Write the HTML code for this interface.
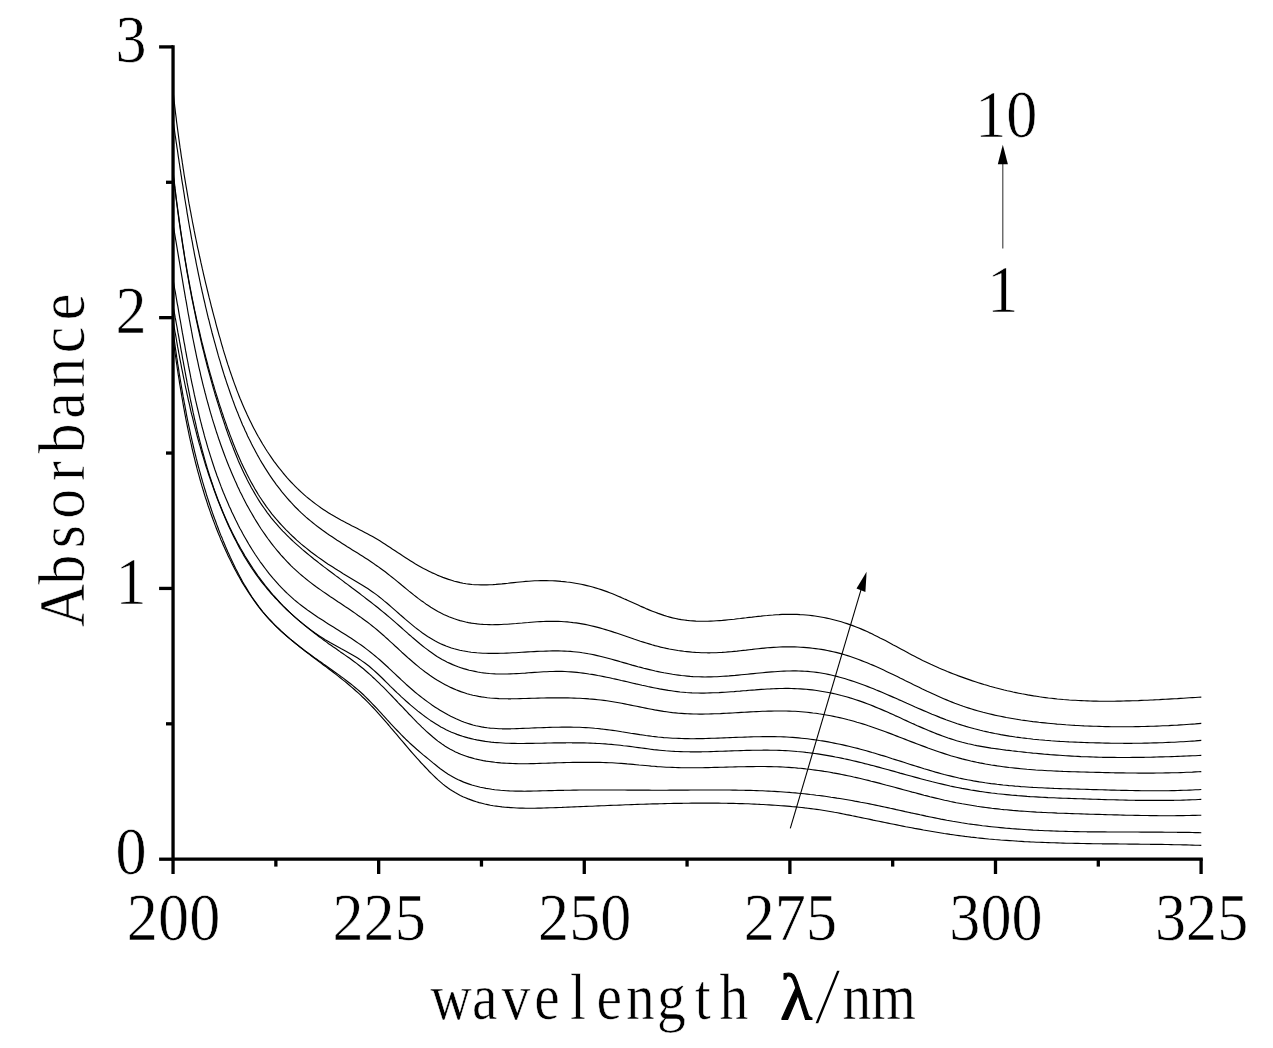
<!DOCTYPE html>
<html lang="en">
<head>
<meta charset="utf-8">
<title>Absorbance vs wavelength</title>
<style>
html,body{margin:0;padding:0;background:#fff;}
svg{display:block;}
text{font-family:"Liberation Serif","Noto Serif CJK SC",serif;fill:#000;stroke:#fff;stroke-width:0.6px;}
.num{font-size:67.6px;}
.lab{font-size:64px;}
</style>
</head>
<body>
<svg width="1273" height="1048" viewBox="0 0 1273 1048">
<rect width="1273" height="1048" fill="#fff"/>
<g fill="none" stroke="#000" stroke-width="1.15" stroke-linejoin="round">
<path d="M173.1 91.0L173.4 94.0 173.7 97.0 174.0 100.0 174.4 103.1 174.7 106.1 175.1 109.1 175.4 112.1 175.8 115.1 176.2 118.1 176.5 121.1 176.9 124.0 177.3 127.0 177.7 130.0 178.1 133.0 178.5 136.0 178.9 139.0 179.3 141.9 179.7 144.9 180.1 147.9 180.6 150.8 181.0 153.8 181.4 156.8 181.9 159.7 182.3 162.7 182.8 165.6 183.2 168.6 183.7 171.5 184.1 174.5 184.6 177.4 185.1 180.4 185.6 183.3 186.1 186.3 186.6 189.2 187.1 192.2 187.6 195.1 188.1 198.0 188.6 201.0 189.1 203.9 189.7 206.8 190.2 209.8 190.8 212.7 191.3 215.6 191.9 218.5 192.4 221.5 193.0 224.4 193.6 227.3 194.1 230.2 194.7 233.2 195.3 236.1 195.9 239.0 196.5 241.9 197.1 244.9 197.7 247.8 198.4 250.7 199.0 253.6 199.6 256.5 200.3 259.4 200.9 262.4 201.6 265.3 202.2 268.2 202.9 271.1 203.5 274.0 204.2 276.9 204.9 279.9 205.6 282.8 206.3 285.7 207.0 288.6 207.7 291.5 208.4 294.4 209.1 297.4 209.9 300.3 210.6 303.2 211.3 306.1 212.1 309.0 212.8 311.9 213.6 314.9 214.4 317.8 215.2 320.7 215.9 323.6 216.7 326.6 217.5 329.5 218.3 332.4 219.1 335.3 220.0 338.2 220.8 341.2 221.6 344.1 222.5 347.0 223.3 349.9 224.2 352.8 225.1 355.7 226.0 358.6 226.9 361.5 227.8 364.4 228.8 367.3 229.7 370.1 230.7 373.0 231.7 375.9 232.7 378.7 233.7 381.6 234.7 384.4 235.8 387.3 236.8 390.1 237.9 392.9 239.0 395.7 240.1 398.5 241.3 401.3 242.4 404.0 243.6 406.8 244.8 409.5 246.1 412.3 247.3 415.0 248.6 417.7 249.9 420.4 251.2 423.1 252.5 425.7 253.9 428.4 255.3 431.0 256.7 433.7 258.1 436.3 259.6 438.8 261.1 441.4 262.6 444.0 264.2 446.5 265.7 449.0 267.3 451.5 269.0 454.0 270.6 456.4 272.3 458.9 274.0 461.3 275.8 463.7 277.6 466.1 279.4 468.4 281.3 470.7 283.1 473.0 285.1 475.3 287.0 477.6 289.0 479.8 291.0 482.0 293.1 484.2 295.2 486.3 297.3 488.4 299.5 490.5 301.8 492.6 304.0 494.6 306.3 496.6 308.6 498.5 311.0 500.4 313.4 502.3 315.8 504.1 318.3 505.9 320.8 507.7 323.3 509.4 325.8 511.1 328.3 512.7 330.9 514.3 333.5 515.8 336.1 517.3 338.7 518.7 341.3 520.2 343.9 521.6 346.5 522.9 349.1 524.3 351.7 525.7 354.4 527.0 357.0 528.3 359.6 529.7 362.2 531.0 364.8 532.4 367.4 533.8 370.0 535.2 372.6 536.6 375.1 538.1 377.7 539.6 380.2 541.1 382.7 542.7 385.2 544.3 387.7 545.9 390.2 547.5 392.6 549.2 395.1 550.8 397.6 552.5 400.1 554.1 402.6 555.8 405.2 557.4 407.7 559.1 410.3 560.7 412.9 562.3 415.5 563.9 418.1 565.4 420.8 566.9 423.5 568.4 426.2 569.8 428.9 571.2 431.7 572.6 434.5 573.8 437.2 575.1 440.1 576.3 442.9 577.4 445.7 578.4 448.6 579.4 451.5 580.3 454.4 581.2 457.3 581.9 460.2 582.6 463.1 583.2 466.1 583.7 469.0 584.1 472.0 584.5 474.9 584.7 477.9 584.8 480.9 584.9 483.9 584.9 486.9 584.9 489.9 584.7 492.9 584.6 495.9 584.4 498.9 584.1 501.9 583.9 504.9 583.6 507.9 583.3 510.9 582.9 513.9 582.6 516.9 582.3 519.9 582.0 522.8 581.7 525.8 581.4 528.8 581.2 531.8 581.0 534.7 580.8 537.7 580.7 540.6 580.6 543.5 580.6 546.5 580.6 549.4 580.7 552.3 580.8 555.2 580.9 558.1 581.1 561.0 581.4 563.9 581.6 566.8 582.0 569.7 582.3 572.6 582.7 575.4 583.2 578.3 583.7 581.2 584.3 584.0 584.9 586.9 585.6 589.8 586.3 592.6 587.0 595.5 587.9 598.3 588.7 601.2 589.6 604.0 590.6 606.9 591.6 609.7 592.7 612.5 593.8 615.4 595.0 618.2 596.2 621.1 597.4 623.9 598.7 626.8 599.9 629.6 601.2 632.5 602.5 635.3 603.8 638.2 605.1 641.0 606.4 643.9 607.6 646.7 608.9 649.6 610.1 652.4 611.2 655.3 612.3 658.2 613.4 661.1 614.4 663.9 615.4 666.8 616.3 669.7 617.1 672.6 617.9 675.5 618.5 678.4 619.1 681.3 619.6 684.2 620.0 687.1 620.4 690.0 620.7 693.0 620.9 695.9 621.1 698.8 621.2 701.8 621.2 704.7 621.2 707.7 621.2 710.6 621.1 713.6 621.0 716.5 620.8 719.5 620.6 722.4 620.4 725.4 620.1 728.4 619.8 731.3 619.5 734.3 619.2 737.3 618.8 740.3 618.5 743.2 618.1 746.2 617.8 749.2 617.4 752.2 617.1 755.2 616.7 758.1 616.4 761.1 616.1 764.1 615.7 767.1 615.5 770.1 615.2 773.1 615.0 776.1 614.7 779.1 614.6 782.1 614.4 785.1 614.3 788.1 614.3 791.1 614.3 794.0 614.3 797.0 614.4 800.0 614.6 803.0 614.7 806.0 615.0 809.0 615.3 812.0 615.6 814.9 616.0 817.9 616.5 820.8 617.0 823.8 617.5 826.7 618.1 829.7 618.8 832.6 619.5 835.5 620.2 838.4 621.0 841.3 621.8 844.1 622.7 847.0 623.6 849.8 624.6 852.7 625.6 855.5 626.7 858.2 627.8 861.0 628.9 863.8 630.1 866.5 631.3 869.2 632.6 871.9 633.8 874.6 635.2 877.3 636.5 880.0 637.9 882.7 639.2 885.4 640.6 888.0 642.0 890.7 643.4 893.3 644.9 896.0 646.3 898.6 647.7 901.3 649.2 903.9 650.6 906.6 652.0 909.2 653.5 911.9 654.9 914.6 656.3 917.3 657.7 919.9 659.0 922.6 660.4 925.4 661.7 928.1 663.0 930.8 664.3 933.5 665.5 936.3 666.7 939.0 668.0 941.8 669.2 944.5 670.3 947.3 671.5 950.1 672.6 952.9 673.7 955.7 674.8 958.5 675.9 961.3 676.9 964.1 677.9 966.9 678.9 969.8 679.9 972.6 680.9 975.4 681.8 978.3 682.7 981.2 683.6 984.0 684.5 986.9 685.3 989.8 686.2 992.7 687.0 995.5 687.8 998.4 688.5 1001.3 689.2 1004.2 690.0 1007.2 690.7 1010.1 691.3 1013.0 692.0 1015.9 692.6 1018.8 693.2 1021.8 693.8 1024.7 694.3 1027.7 694.9 1030.6 695.4 1033.6 695.9 1036.5 696.3 1039.5 696.8 1042.4 697.2 1045.4 697.6 1048.4 698.0 1051.4 698.3 1054.3 698.6 1057.3 699.0 1060.3 699.2 1063.3 699.5 1066.3 699.7 1069.3 700.0 1072.3 700.2 1075.3 700.3 1078.2 700.5 1081.2 700.6 1084.2 700.8 1087.3 700.9 1090.3 701.0 1093.3 701.1 1096.3 701.1 1099.3 701.2 1102.3 701.2 1105.3 701.2 1108.3 701.2 1111.3 701.2 1114.3 701.2 1117.3 701.1 1120.4 701.1 1123.4 701.0 1126.4 700.9 1129.4 700.9 1132.4 700.8 1135.4 700.7 1138.4 700.6 1141.4 700.4 1144.4 700.3 1147.5 700.2 1150.5 700.0 1153.5 699.9 1156.5 699.7 1159.5 699.6 1162.5 699.4 1165.5 699.3 1168.5 699.1 1171.5 698.9 1174.5 698.7 1177.5 698.6 1180.5 698.4 1183.4 698.2 1186.4 698.0 1189.4 697.8 1192.4 697.6 1195.4 697.5 1198.3 697.3 1201.3 697.1"/>
<path d="M173.0 120.5L173.5 123.5 173.9 126.5 174.4 129.5 174.8 132.6 175.2 135.6 175.7 138.6 176.1 141.6 176.6 144.6 177.0 147.6 177.5 150.5 177.9 153.5 178.3 156.5 178.8 159.5 179.2 162.5 179.7 165.5 180.1 168.4 180.6 171.4 181.0 174.4 181.5 177.4 181.9 180.3 182.4 183.3 182.9 186.2 183.3 189.2 183.8 192.2 184.3 195.1 184.7 198.1 185.2 201.0 185.7 204.0 186.2 206.9 186.7 209.8 187.1 212.8 187.6 215.7 188.1 218.7 188.6 221.6 189.1 224.5 189.6 227.5 190.2 230.4 190.7 233.3 191.2 236.3 191.7 239.2 192.3 242.1 192.8 245.1 193.3 248.0 193.9 250.9 194.4 253.8 195.0 256.8 195.6 259.7 196.1 262.6 196.7 265.5 197.3 268.4 197.9 271.3 198.5 274.3 199.1 277.2 199.7 280.1 200.3 283.0 200.9 285.9 201.6 288.8 202.2 291.8 202.9 294.7 203.5 297.6 204.2 300.5 204.9 303.4 205.5 306.3 206.2 309.2 206.9 312.1 207.6 315.1 208.3 318.0 209.1 320.9 209.8 323.8 210.5 326.7 211.3 329.6 212.0 332.5 212.8 335.5 213.6 338.4 214.4 341.3 215.2 344.2 216.0 347.1 216.8 350.0 217.6 352.9 218.4 355.9 219.3 358.8 220.2 361.7 221.0 364.6 221.9 367.5 222.8 370.5 223.7 373.4 224.6 376.3 225.6 379.2 226.5 382.1 227.5 385.0 228.5 387.9 229.5 390.8 230.5 393.7 231.5 396.5 232.5 399.4 233.6 402.3 234.6 405.1 235.7 408.0 236.8 410.8 238.0 413.6 239.1 416.5 240.3 419.3 241.4 422.1 242.6 424.9 243.9 427.6 245.1 430.4 246.4 433.1 247.6 435.9 248.9 438.6 250.3 441.3 251.6 444.0 253.0 446.7 254.4 449.3 255.8 452.0 257.2 454.6 258.7 457.2 260.1 459.8 261.6 462.4 263.2 464.9 264.7 467.4 266.3 469.9 267.9 472.4 269.5 474.9 271.2 477.4 272.9 479.8 274.6 482.2 276.3 484.6 278.1 486.9 279.9 489.2 281.7 491.6 283.6 493.8 285.5 496.1 287.4 498.3 289.3 500.5 291.3 502.7 293.3 504.8 295.3 507.0 297.4 509.0 299.5 511.1 301.6 513.1 303.8 515.1 306.0 517.1 308.2 519.0 310.5 520.9 312.8 522.8 315.1 524.6 317.5 526.5 319.9 528.2 322.3 530.0 324.7 531.7 327.1 533.5 329.6 535.2 332.1 536.8 334.6 538.5 337.1 540.2 339.7 541.8 342.2 543.4 344.7 545.0 347.3 546.7 349.9 548.3 352.4 549.9 355.0 551.5 357.6 553.1 360.1 554.7 362.7 556.3 365.2 557.9 367.8 559.6 370.3 561.2 372.8 562.9 375.3 564.7 377.8 566.4 380.3 568.2 382.7 570.0 385.2 571.8 387.6 573.7 390.0 575.6 392.4 577.5 394.8 579.4 397.2 581.4 399.5 583.3 401.9 585.3 404.3 587.2 406.6 589.1 409.0 591.1 411.4 593.0 413.7 594.9 416.1 596.7 418.5 598.6 420.9 600.4 423.4 602.1 425.8 603.9 428.3 605.5 430.8 607.2 433.3 608.7 435.8 610.2 438.4 611.7 441.0 613.1 443.6 614.4 446.2 615.6 448.9 616.8 451.6 617.8 454.4 618.8 457.2 619.7 460.0 620.6 462.8 621.3 465.7 622.0 468.5 622.6 471.4 623.1 474.3 623.5 477.3 623.9 480.2 624.2 483.2 624.4 486.1 624.5 489.1 624.6 492.1 624.7 495.1 624.6 498.1 624.6 501.1 624.5 504.1 624.3 507.1 624.2 510.1 624.0 513.1 623.7 516.1 623.5 519.1 623.2 522.2 623.0 525.2 622.7 528.2 622.5 531.2 622.2 534.2 622.0 537.2 621.8 540.2 621.6 543.2 621.5 546.2 621.4 549.2 621.3 552.2 621.3 555.2 621.3 558.2 621.4 561.2 621.5 564.2 621.7 567.2 621.9 570.1 622.2 573.1 622.6 576.1 622.9 579.1 623.4 582.0 623.9 585.0 624.4 587.9 625.0 590.9 625.7 593.8 626.4 596.8 627.1 599.7 627.9 602.6 628.7 605.6 629.6 608.5 630.5 611.4 631.4 614.3 632.4 617.2 633.3 620.1 634.3 623.0 635.3 625.9 636.3 628.8 637.3 631.7 638.3 634.6 639.3 637.5 640.2 640.4 641.2 643.3 642.1 646.2 643.0 649.1 643.9 652.0 644.8 654.8 645.6 657.7 646.3 660.6 647.1 663.5 647.7 666.4 648.4 669.3 649.0 672.2 649.5 675.1 650.0 678.0 650.5 680.9 650.9 683.8 651.3 686.8 651.6 689.7 651.9 692.6 652.2 695.5 652.4 698.5 652.5 701.4 652.7 704.3 652.7 707.3 652.8 710.3 652.8 713.2 652.7 716.2 652.7 719.2 652.5 722.1 652.4 725.1 652.2 728.1 651.9 731.1 651.7 734.1 651.4 737.1 651.1 740.2 650.7 743.2 650.4 746.2 650.1 749.2 649.7 752.3 649.4 755.3 649.0 758.3 648.7 761.3 648.4 764.4 648.1 767.4 647.8 770.4 647.6 773.5 647.4 776.5 647.2 779.5 647.0 782.6 646.9 785.6 646.9 788.6 646.9 791.6 646.9 794.6 646.9 797.6 647.0 800.6 647.2 803.6 647.4 806.6 647.6 809.6 647.9 812.5 648.2 815.5 648.6 818.5 649.0 821.4 649.4 824.4 649.9 827.3 650.5 830.2 651.1 833.1 651.7 836.0 652.4 838.9 653.1 841.8 653.9 844.6 654.7 847.5 655.6 850.3 656.5 853.1 657.5 855.9 658.5 858.7 659.5 861.5 660.6 864.3 661.7 867.1 662.8 869.9 664.0 872.7 665.1 875.4 666.3 878.2 667.6 880.9 668.8 883.7 670.1 886.4 671.4 889.1 672.7 891.9 674.0 894.6 675.3 897.3 676.6 900.0 678.0 902.8 679.3 905.5 680.7 908.2 682.0 910.9 683.3 913.6 684.7 916.3 686.0 919.1 687.3 921.8 688.7 924.5 690.0 927.2 691.3 930.0 692.5 932.7 693.8 935.5 695.1 938.2 696.3 940.9 697.5 943.7 698.7 946.5 699.9 949.2 701.0 952.0 702.1 954.8 703.2 957.6 704.2 960.4 705.3 963.2 706.3 966.0 707.2 968.8 708.1 971.7 709.0 974.5 709.9 977.4 710.7 980.2 711.5 983.1 712.3 986.0 713.0 988.9 713.7 991.8 714.4 994.7 715.1 997.6 715.7 1000.5 716.3 1003.4 716.9 1006.3 717.5 1009.3 718.0 1012.2 718.5 1015.2 719.0 1018.1 719.5 1021.1 720.0 1024.0 720.4 1027.0 720.8 1030.0 721.2 1032.9 721.6 1035.9 721.9 1038.9 722.3 1041.9 722.6 1044.9 722.9 1047.9 723.2 1050.9 723.5 1053.9 723.8 1056.9 724.1 1059.9 724.3 1062.9 724.5 1065.9 724.8 1069.0 725.0 1072.0 725.2 1075.0 725.4 1078.0 725.5 1081.1 725.7 1084.1 725.9 1087.1 726.0 1090.1 726.1 1093.2 726.2 1096.2 726.3 1099.2 726.4 1102.3 726.5 1105.3 726.6 1108.3 726.6 1111.4 726.7 1114.4 726.7 1117.4 726.7 1120.5 726.7 1123.5 726.7 1126.5 726.7 1129.6 726.7 1132.6 726.7 1135.6 726.6 1138.6 726.6 1141.6 726.5 1144.7 726.5 1147.7 726.4 1150.7 726.3 1153.7 726.2 1156.7 726.1 1159.7 726.0 1162.7 725.8 1165.7 725.7 1168.7 725.6 1171.7 725.4 1174.7 725.2 1177.6 725.1 1180.6 724.9 1183.6 724.7 1186.6 724.5 1189.5 724.3 1192.5 724.1 1195.4 723.9 1198.4 723.6 1201.3 723.4"/>
<path d="M173.1 171.0L173.4 174.0 173.7 177.0 174.1 180.0 174.4 182.9 174.8 185.9 175.1 188.9 175.5 191.9 175.9 194.9 176.2 197.9 176.6 200.8 177.0 203.8 177.4 206.8 177.8 209.8 178.2 212.8 178.6 215.7 179.0 218.7 179.4 221.7 179.8 224.7 180.3 227.6 180.7 230.6 181.1 233.6 181.6 236.5 182.0 239.5 182.5 242.5 182.9 245.5 183.4 248.4 183.9 251.4 184.3 254.4 184.8 257.3 185.3 260.3 185.8 263.2 186.3 266.2 186.8 269.2 187.3 272.1 187.9 275.1 188.4 278.0 188.9 281.0 189.5 283.9 190.0 286.9 190.6 289.8 191.2 292.8 191.7 295.7 192.3 298.6 192.9 301.6 193.5 304.5 194.1 307.5 194.7 310.4 195.4 313.3 196.0 316.3 196.6 319.2 197.3 322.1 197.9 325.1 198.6 328.0 199.3 330.9 200.0 333.8 200.6 336.7 201.3 339.7 202.0 342.6 202.8 345.5 203.5 348.4 204.2 351.3 205.0 354.2 205.7 357.1 206.5 360.0 207.3 362.9 208.0 365.8 208.8 368.7 209.6 371.6 210.4 374.5 211.3 377.4 212.1 380.3 212.9 383.2 213.8 386.0 214.6 388.9 215.5 391.8 216.4 394.7 217.3 397.5 218.2 400.4 219.1 403.3 220.0 406.1 221.0 409.0 221.9 411.9 222.9 414.7 223.8 417.6 224.8 420.4 225.8 423.3 226.8 426.1 227.8 429.0 228.9 431.8 229.9 434.6 231.0 437.4 232.1 440.3 233.1 443.1 234.3 445.9 235.4 448.7 236.5 451.4 237.7 454.2 238.9 457.0 240.1 459.7 241.3 462.5 242.6 465.2 243.9 467.9 245.2 470.6 246.5 473.3 247.9 476.0 249.2 478.6 250.6 481.2 252.1 483.9 253.6 486.5 255.0 489.1 256.6 491.6 258.1 494.2 259.7 496.7 261.4 499.2 263.0 501.7 264.7 504.1 266.4 506.6 268.2 509.0 270.0 511.4 271.8 513.8 273.7 516.1 275.6 518.4 277.6 520.7 279.6 523.0 281.6 525.2 283.7 527.4 285.8 529.6 287.9 531.7 290.1 533.9 292.3 536.0 294.5 538.0 296.7 540.1 299.0 542.1 301.3 544.1 303.6 546.0 306.0 547.9 308.3 549.8 310.7 551.7 313.1 553.5 315.5 555.3 318.0 557.1 320.4 558.8 322.9 560.5 325.3 562.2 327.8 563.9 330.3 565.5 332.8 567.1 335.3 568.7 337.8 570.3 340.3 571.8 342.8 573.4 345.3 574.9 347.8 576.4 350.3 577.9 352.8 579.4 355.3 580.9 357.8 582.4 360.3 583.9 362.8 585.4 365.2 587.0 367.7 588.6 370.1 590.2 372.6 591.9 375.0 593.6 377.4 595.4 379.7 597.3 382.1 599.1 384.4 601.1 386.8 603.0 389.1 605.0 391.5 607.1 393.8 609.1 396.1 611.1 398.5 613.2 400.8 615.3 403.1 617.3 405.5 619.4 407.9 621.4 410.3 623.4 412.7 625.4 415.1 627.4 417.6 629.3 420.1 631.1 422.5 633.0 425.1 634.7 427.6 636.4 430.2 638.0 432.7 639.6 435.3 641.1 438.0 642.4 440.6 643.7 443.3 644.9 446.0 646.0 448.7 647.0 451.4 648.0 454.2 648.8 457.0 649.5 459.8 650.2 462.6 650.8 465.4 651.3 468.3 651.8 471.1 652.2 474.0 652.5 476.9 652.8 479.8 653.0 482.8 653.2 485.7 653.3 488.7 653.4 491.6 653.4 494.6 653.4 497.6 653.4 500.6 653.3 503.6 653.2 506.6 653.1 509.6 653.0 512.6 652.8 515.7 652.7 518.7 652.5 521.8 652.3 524.8 652.1 527.9 651.9 530.9 651.8 534.0 651.6 537.0 651.4 540.1 651.3 543.1 651.2 546.2 651.1 549.2 651.0 552.3 650.9 555.3 650.9 558.3 650.9 561.4 651.0 564.4 651.1 567.4 651.2 570.4 651.4 573.5 651.7 576.5 652.0 579.4 652.3 582.4 652.8 585.4 653.2 588.4 653.8 591.3 654.3 594.3 654.9 597.2 655.6 600.1 656.3 603.1 657.0 606.0 657.7 608.9 658.5 611.8 659.3 614.7 660.1 617.6 660.9 620.5 661.8 623.4 662.6 626.3 663.4 629.2 664.2 632.1 665.1 635.0 665.9 637.9 666.7 640.8 667.4 643.7 668.2 646.5 668.9 649.4 669.6 652.3 670.3 655.2 671.0 658.1 671.6 661.0 672.2 663.9 672.8 666.8 673.3 669.7 673.8 672.6 674.3 675.5 674.7 678.4 675.1 681.4 675.5 684.3 675.8 687.2 676.1 690.2 676.4 693.1 676.6 696.1 676.7 699.0 676.8 702.0 676.9 705.0 677.0 708.0 676.9 711.0 676.9 714.0 676.8 717.0 676.7 720.0 676.5 723.0 676.3 726.1 676.1 729.1 675.9 732.1 675.6 735.2 675.4 738.2 675.1 741.3 674.8 744.3 674.5 747.4 674.2 750.4 673.9 753.5 673.6 756.5 673.3 759.6 673.0 762.6 672.7 765.7 672.4 768.7 672.1 771.8 671.9 774.8 671.7 777.8 671.5 780.9 671.3 783.9 671.1 786.9 671.0 789.9 671.0 792.9 670.9 795.9 670.9 798.9 671.0 801.9 671.1 804.8 671.2 807.8 671.4 810.7 671.7 813.7 672.0 816.6 672.4 819.5 672.8 822.4 673.3 825.3 673.8 828.2 674.4 831.1 675.0 834.0 675.7 836.8 676.4 839.7 677.2 842.6 678.0 845.4 678.8 848.2 679.7 851.1 680.6 853.9 681.5 856.7 682.5 859.5 683.5 862.3 684.5 865.1 685.5 867.9 686.6 870.7 687.7 873.5 688.8 876.3 690.0 879.1 691.1 881.9 692.3 884.7 693.5 887.5 694.7 890.2 695.9 893.0 697.1 895.8 698.3 898.6 699.6 901.4 700.8 904.1 702.0 906.9 703.3 909.7 704.5 912.5 705.7 915.2 707.0 918.0 708.2 920.8 709.4 923.6 710.6 926.4 711.8 929.2 713.0 932.0 714.2 934.8 715.3 937.6 716.4 940.4 717.6 943.2 718.6 946.0 719.7 948.8 720.7 951.7 721.8 954.5 722.7 957.3 723.7 960.2 724.6 963.0 725.5 965.9 726.4 968.8 727.2 971.6 728.0 974.5 728.8 977.4 729.5 980.3 730.3 983.2 731.0 986.1 731.6 989.0 732.3 991.9 732.9 994.8 733.5 997.8 734.0 1000.7 734.6 1003.6 735.1 1006.5 735.6 1009.5 736.1 1012.4 736.5 1015.4 737.0 1018.3 737.4 1021.3 737.8 1024.3 738.1 1027.2 738.5 1030.2 738.8 1033.2 739.2 1036.1 739.5 1039.1 739.8 1042.1 740.0 1045.1 740.3 1048.1 740.5 1051.1 740.8 1054.0 741.0 1057.0 741.2 1060.0 741.4 1063.0 741.5 1066.0 741.7 1069.0 741.9 1072.0 742.0 1075.1 742.1 1078.1 742.3 1081.1 742.4 1084.1 742.5 1087.1 742.6 1090.1 742.7 1093.1 742.8 1096.1 742.9 1099.2 742.9 1102.2 743.0 1105.2 743.1 1108.2 743.1 1111.2 743.2 1114.3 743.2 1117.3 743.2 1120.3 743.2 1123.3 743.3 1126.3 743.3 1129.3 743.3 1132.4 743.3 1135.4 743.2 1138.4 743.2 1141.4 743.2 1144.4 743.1 1147.4 743.1 1150.4 743.0 1153.5 742.9 1156.5 742.9 1159.5 742.8 1162.5 742.7 1165.5 742.5 1168.5 742.4 1171.5 742.3 1174.5 742.2 1177.5 742.0 1180.4 741.8 1183.4 741.7 1186.4 741.5 1189.4 741.3 1192.4 741.1 1195.4 740.9 1198.3 740.6 1201.3 740.4"/>
<path d="M173.0 174.0L173.4 177.0 173.8 180.0 174.1 183.0 174.5 186.0 174.9 189.0 175.3 192.0 175.6 195.0 176.0 198.0 176.4 201.0 176.8 203.9 177.2 206.9 177.6 209.9 178.0 212.9 178.4 215.9 178.8 218.9 179.2 221.8 179.7 224.8 180.1 227.8 180.5 230.8 181.0 233.7 181.4 236.7 181.9 239.7 182.3 242.7 182.8 245.6 183.2 248.6 183.7 251.6 184.2 254.5 184.6 257.5 185.1 260.4 185.6 263.4 186.1 266.4 186.6 269.3 187.1 272.3 187.6 275.2 188.2 278.2 188.7 281.1 189.2 284.1 189.8 287.0 190.3 290.0 190.9 292.9 191.4 295.8 192.0 298.8 192.6 301.7 193.2 304.7 193.8 307.6 194.4 310.5 195.0 313.5 195.6 316.4 196.2 319.3 196.8 322.2 197.5 325.2 198.1 328.1 198.8 331.0 199.4 333.9 200.1 336.9 200.8 339.8 201.4 342.7 202.1 345.6 202.8 348.5 203.6 351.4 204.3 354.4 205.0 357.3 205.7 360.2 206.5 363.1 207.2 366.0 208.0 368.9 208.8 371.8 209.6 374.7 210.4 377.6 211.2 380.5 212.0 383.4 212.8 386.3 213.6 389.2 214.5 392.1 215.3 395.0 216.2 397.9 217.1 400.7 218.0 403.6 218.9 406.5 219.8 409.4 220.7 412.3 221.6 415.2 222.6 418.0 223.5 420.9 224.5 423.8 225.4 426.7 226.4 429.5 227.4 432.4 228.4 435.2 229.5 438.1 230.5 441.0 231.6 443.8 232.7 446.6 233.8 449.5 234.9 452.3 236.0 455.1 237.2 457.9 238.3 460.7 239.5 463.4 240.8 466.2 242.0 468.9 243.3 471.7 244.6 474.4 245.9 477.1 247.2 479.8 248.6 482.4 250.0 485.1 251.4 487.7 252.9 490.3 254.4 492.9 255.9 495.5 257.4 498.0 259.0 500.6 260.6 503.1 262.3 505.6 264.0 508.0 265.7 510.4 267.4 512.8 269.2 515.2 271.0 517.6 272.9 519.9 274.8 522.2 276.8 524.4 278.7 526.7 280.7 528.9 282.8 531.1 284.9 533.2 287.0 535.3 289.1 537.4 291.3 539.5 293.5 541.6 295.7 543.6 298.0 545.6 300.3 547.6 302.5 549.6 304.8 551.5 307.2 553.5 309.5 555.4 311.8 557.3 314.2 559.2 316.6 561.0 318.9 562.9 321.3 564.7 323.7 566.6 326.1 568.4 328.5 570.2 330.9 572.0 333.3 573.8 335.6 575.6 338.0 577.3 340.4 579.1 342.8 580.9 345.1 582.7 347.5 584.4 349.9 586.2 352.2 588.0 354.6 589.7 356.9 591.5 359.3 593.3 361.6 595.1 364.0 596.9 366.3 598.7 368.6 600.5 371.0 602.3 373.3 604.1 375.7 606.0 378.0 607.8 380.3 609.7 382.6 611.6 385.0 613.5 387.3 615.5 389.6 617.4 391.9 619.4 394.2 621.4 396.5 623.4 398.9 625.5 401.2 627.5 403.5 629.6 405.8 631.6 408.1 633.7 410.5 635.7 412.8 637.8 415.2 639.8 417.5 641.8 419.9 643.8 422.3 645.7 424.7 647.6 427.1 649.4 429.6 651.3 432.1 653.0 434.5 654.7 437.0 656.4 439.6 657.9 442.1 659.4 444.7 660.8 447.3 662.2 450.0 663.4 452.7 664.6 455.4 665.7 458.1 666.8 460.8 667.7 463.6 668.6 466.4 669.4 469.2 670.2 472.0 670.8 474.9 671.4 477.7 672.0 480.6 672.5 483.5 672.9 486.4 673.2 489.4 673.5 492.3 673.7 495.3 673.9 498.3 674.0 501.2 674.0 504.2 674.0 507.2 674.0 510.3 673.9 513.3 673.8 516.3 673.6 519.3 673.5 522.4 673.3 525.4 673.1 528.5 672.8 531.5 672.6 534.6 672.4 537.6 672.2 540.7 672.0 543.7 671.8 546.8 671.7 549.8 671.5 552.9 671.5 555.9 671.4 558.9 671.4 562.0 671.4 565.0 671.5 568.0 671.7 571.0 671.9 574.0 672.1 577.0 672.4 580.0 672.7 583.0 673.1 585.9 673.5 588.9 674.0 591.9 674.4 594.8 674.9 597.8 675.5 600.7 676.0 603.7 676.6 606.6 677.2 609.6 677.8 612.5 678.5 615.5 679.1 618.4 679.8 621.3 680.5 624.3 681.1 627.2 681.8 630.1 682.5 633.1 683.2 636.0 683.9 638.9 684.5 641.9 685.2 644.8 685.8 647.7 686.5 650.7 687.1 653.6 687.7 656.5 688.3 659.5 688.9 662.4 689.4 665.4 689.9 668.3 690.4 671.3 690.8 674.2 691.2 677.2 691.6 680.1 692.0 683.1 692.2 686.1 692.5 689.0 692.7 692.0 692.9 695.0 693.0 698.0 693.0 701.0 693.1 704.0 693.1 707.0 693.0 710.0 692.9 713.0 692.8 716.0 692.7 719.0 692.6 722.0 692.4 725.0 692.2 728.1 692.0 731.1 691.8 734.1 691.6 737.1 691.3 740.1 691.1 743.2 690.8 746.2 690.6 749.2 690.3 752.2 690.1 755.3 689.9 758.3 689.6 761.3 689.4 764.3 689.2 767.3 689.0 770.3 688.9 773.4 688.7 776.4 688.6 779.4 688.5 782.4 688.5 785.4 688.4 788.4 688.4 791.4 688.5 794.3 688.6 797.3 688.7 800.3 688.9 803.3 689.1 806.3 689.3 809.2 689.6 812.2 689.9 815.1 690.3 818.1 690.7 821.0 691.2 824.0 691.7 826.9 692.2 829.8 692.8 832.7 693.4 835.6 694.0 838.5 694.7 841.4 695.5 844.3 696.2 847.2 697.0 850.1 697.9 852.9 698.7 855.8 699.7 858.6 700.6 861.5 701.6 864.3 702.6 867.2 703.7 870.0 704.8 872.8 705.9 875.6 707.1 878.4 708.2 881.2 709.4 884.0 710.6 886.8 711.8 889.6 713.1 892.4 714.3 895.1 715.6 897.9 716.8 900.7 718.1 903.5 719.4 906.2 720.6 909.0 721.9 911.8 723.2 914.6 724.4 917.3 725.7 920.1 726.9 922.9 728.1 925.7 729.3 928.5 730.5 931.3 731.6 934.1 732.8 936.8 733.9 939.6 734.9 942.5 736.0 945.3 737.0 948.1 738.0 950.9 738.9 953.7 739.8 956.6 740.7 959.4 741.5 962.3 742.3 965.1 743.0 968.0 743.7 970.9 744.3 973.8 745.0 976.7 745.6 979.6 746.1 982.5 746.6 985.4 747.1 988.3 747.6 991.2 748.1 994.2 748.5 997.1 748.9 1000.0 749.3 1003.0 749.7 1005.9 750.1 1008.9 750.4 1011.8 750.8 1014.8 751.1 1017.8 751.5 1020.8 751.8 1023.7 752.1 1026.7 752.5 1029.7 752.8 1032.7 753.1 1035.7 753.3 1038.7 753.6 1041.7 753.9 1044.7 754.2 1047.7 754.4 1050.7 754.7 1053.7 754.9 1056.7 755.1 1059.8 755.3 1062.8 755.5 1065.8 755.7 1068.8 755.9 1071.9 756.1 1074.9 756.3 1077.9 756.4 1080.9 756.6 1084.0 756.7 1087.0 756.8 1090.0 756.9 1093.1 757.0 1096.1 757.1 1099.1 757.2 1102.2 757.3 1105.2 757.3 1108.2 757.4 1111.3 757.4 1114.3 757.4 1117.3 757.5 1120.4 757.5 1123.4 757.5 1126.4 757.5 1129.5 757.5 1132.5 757.4 1135.5 757.4 1138.5 757.4 1141.6 757.3 1144.6 757.3 1147.6 757.2 1150.6 757.2 1153.6 757.1 1156.6 757.0 1159.6 756.9 1162.6 756.9 1165.6 756.8 1168.6 756.7 1171.6 756.6 1174.6 756.5 1177.6 756.4 1180.6 756.3 1183.5 756.1 1186.5 756.0 1189.5 755.9 1192.4 755.8 1195.4 755.7 1198.4 755.5 1201.3 755.4"/>
<path d="M173.0 224.5L173.6 227.5 174.1 230.4 174.6 233.4 175.1 236.3 175.6 239.3 176.1 242.2 176.6 245.2 177.1 248.2 177.6 251.1 178.1 254.1 178.6 257.1 179.1 260.1 179.6 263.0 180.1 266.0 180.6 269.0 181.1 271.9 181.6 274.9 182.1 277.9 182.6 280.8 183.1 283.8 183.6 286.8 184.1 289.8 184.6 292.7 185.1 295.7 185.6 298.7 186.2 301.6 186.7 304.6 187.2 307.5 187.7 310.5 188.2 313.5 188.8 316.4 189.3 319.4 189.9 322.3 190.4 325.3 191.0 328.2 191.5 331.2 192.1 334.1 192.6 337.1 193.2 340.0 193.8 342.9 194.4 345.9 195.0 348.8 195.6 351.7 196.2 354.7 196.8 357.6 197.5 360.5 198.1 363.4 198.7 366.3 199.4 369.3 200.1 372.2 200.7 375.1 201.4 378.0 202.1 380.9 202.8 383.8 203.5 386.7 204.3 389.6 205.0 392.5 205.8 395.4 206.5 398.3 207.3 401.2 208.1 404.0 208.9 406.9 209.7 409.8 210.5 412.7 211.4 415.6 212.2 418.4 213.1 421.3 214.0 424.2 214.9 427.0 215.8 429.9 216.7 432.8 217.7 435.6 218.6 438.5 219.6 441.3 220.6 444.2 221.6 447.0 222.6 449.8 223.7 452.7 224.7 455.5 225.8 458.4 226.9 461.2 228.0 464.0 229.1 466.8 230.3 469.6 231.5 472.4 232.7 475.2 233.9 478.0 235.1 480.8 236.4 483.6 237.6 486.4 238.9 489.1 240.2 491.9 241.6 494.6 242.9 497.3 244.3 500.0 245.7 502.7 247.1 505.4 248.6 508.0 250.1 510.7 251.6 513.3 253.1 515.9 254.6 518.5 256.2 521.1 257.8 523.6 259.4 526.2 261.0 528.7 262.7 531.2 264.4 533.6 266.1 536.1 267.8 538.5 269.6 540.9 271.4 543.3 273.2 545.7 275.1 548.0 277.0 550.3 278.9 552.5 280.8 554.8 282.8 557.0 284.8 559.2 286.8 561.3 288.9 563.5 290.9 565.6 293.0 567.6 295.2 569.6 297.4 571.6 299.6 573.6 301.8 575.5 304.1 577.4 306.4 579.3 308.7 581.1 311.0 582.9 313.4 584.7 315.8 586.5 318.2 588.2 320.6 589.9 323.0 591.6 325.5 593.3 328.0 595.0 330.4 596.7 332.9 598.3 335.4 600.0 337.9 601.7 340.4 603.3 342.9 605.0 345.4 606.7 347.9 608.3 350.4 610.0 352.9 611.7 355.3 613.4 357.8 615.2 360.3 616.9 362.7 618.7 365.1 620.5 367.6 622.3 370.0 624.1 372.3 626.0 374.7 627.9 377.0 629.8 379.3 631.8 381.6 633.7 383.9 635.7 386.1 637.8 388.4 639.8 390.6 641.9 392.9 643.9 395.1 646.0 397.4 648.0 399.6 650.1 401.8 652.2 404.1 654.2 406.3 656.2 408.6 658.3 410.9 660.3 413.2 662.3 415.5 664.2 417.8 666.1 420.2 668.1 422.5 669.9 424.9 671.8 427.4 673.5 429.8 675.3 432.3 677.0 434.9 678.7 437.4 680.3 440.0 681.8 442.6 683.3 445.2 684.7 447.9 686.1 450.6 687.4 453.3 688.6 456.0 689.8 458.8 690.9 461.5 691.9 464.3 692.8 467.1 693.7 470.0 694.5 472.8 695.2 475.7 695.8 478.6 696.4 481.5 696.9 484.4 697.3 487.3 697.7 490.2 698.0 493.2 698.2 496.1 698.4 499.1 698.6 502.1 698.7 505.0 698.7 508.0 698.8 511.0 698.8 514.0 698.7 517.0 698.7 520.0 698.6 523.0 698.5 526.0 698.5 529.0 698.4 532.0 698.3 535.0 698.2 538.0 698.1 541.0 698.0 544.0 698.0 547.0 697.9 550.0 697.9 553.0 697.8 556.0 697.8 559.0 697.8 562.0 697.8 565.0 697.9 568.0 697.9 571.0 698.0 574.0 698.1 577.0 698.2 579.9 698.3 582.9 698.5 585.9 698.6 588.9 698.9 591.9 699.1 594.9 699.4 597.9 699.7 600.8 700.0 603.8 700.4 606.8 700.8 609.8 701.2 612.8 701.7 615.8 702.2 618.8 702.7 621.7 703.3 624.7 703.9 627.7 704.5 630.7 705.1 633.7 705.7 636.7 706.3 639.6 706.9 642.6 707.5 645.6 708.1 648.6 708.7 651.6 709.3 654.6 709.9 657.6 710.4 660.5 710.9 663.5 711.4 666.5 711.8 669.5 712.2 672.5 712.6 675.5 712.9 678.5 713.2 681.5 713.4 684.5 713.6 687.4 713.8 690.4 713.9 693.4 714.0 696.4 714.0 699.4 714.1 702.4 714.1 705.4 714.0 708.4 714.0 711.4 713.9 714.4 713.8 717.4 713.7 720.4 713.6 723.4 713.4 726.4 713.3 729.3 713.1 732.3 713.0 735.3 712.8 738.3 712.6 741.3 712.4 744.3 712.3 747.3 712.1 750.3 711.9 753.3 711.8 756.3 711.6 759.3 711.5 762.3 711.3 765.2 711.2 768.2 711.1 771.2 711.1 774.2 711.0 777.2 711.0 780.2 711.0 783.2 711.0 786.1 711.0 789.1 711.1 792.1 711.2 795.1 711.3 798.1 711.5 801.0 711.7 804.0 712.0 807.0 712.3 810.0 712.6 812.9 713.0 815.9 713.3 818.8 713.8 821.8 714.2 824.8 714.7 827.7 715.2 830.7 715.8 833.6 716.4 836.5 717.0 839.5 717.6 842.4 718.3 845.3 719.0 848.2 719.8 851.1 720.5 854.0 721.3 856.9 722.2 859.8 723.0 862.7 723.9 865.6 724.8 868.4 725.8 871.3 726.7 874.1 727.7 877.0 728.7 879.8 729.7 882.7 730.8 885.5 731.8 888.4 732.9 891.2 733.9 894.0 735.0 896.8 736.1 899.7 737.2 902.5 738.3 905.3 739.4 908.1 740.5 911.0 741.6 913.8 742.6 916.6 743.7 919.4 744.8 922.3 745.9 925.1 746.9 927.9 748.0 930.7 749.0 933.6 750.0 936.4 751.0 939.3 752.0 942.1 752.9 945.0 753.9 947.8 754.8 950.7 755.7 953.5 756.5 956.4 757.3 959.3 758.1 962.2 758.9 965.1 759.6 967.9 760.3 970.8 761.0 973.8 761.6 976.7 762.3 979.6 762.9 982.5 763.4 985.4 764.0 988.4 764.5 991.3 765.0 994.2 765.4 997.2 765.9 1000.1 766.3 1003.1 766.7 1006.1 767.1 1009.0 767.5 1012.0 767.8 1015.0 768.1 1017.9 768.4 1020.9 768.7 1023.9 769.0 1026.9 769.3 1029.9 769.5 1032.9 769.7 1035.8 770.0 1038.8 770.2 1041.8 770.3 1044.8 770.5 1047.9 770.7 1050.9 770.8 1053.9 771.0 1056.9 771.1 1059.9 771.2 1062.9 771.4 1065.9 771.5 1068.9 771.6 1072.0 771.7 1075.0 771.8 1078.0 771.9 1081.0 772.0 1084.0 772.0 1087.1 772.1 1090.1 772.2 1093.1 772.3 1096.1 772.4 1099.2 772.4 1102.2 772.5 1105.2 772.6 1108.2 772.6 1111.3 772.7 1114.3 772.8 1117.3 772.8 1120.3 772.9 1123.4 772.9 1126.4 773.0 1129.4 773.0 1132.4 773.0 1135.5 773.0 1138.5 773.1 1141.5 773.1 1144.5 773.1 1147.5 773.1 1150.5 773.1 1153.5 773.1 1156.5 773.0 1159.5 773.0 1162.6 773.0 1165.5 772.9 1168.5 772.9 1171.5 772.8 1174.5 772.7 1177.5 772.7 1180.5 772.6 1183.5 772.5 1186.5 772.3 1189.4 772.2 1192.4 772.1 1195.4 771.9 1198.3 771.8 1201.3 771.6"/>
<path d="M173.0 279.6L173.6 282.6 174.1 285.5 174.6 288.5 175.2 291.4 175.7 294.4 176.2 297.3 176.7 300.3 177.2 303.3 177.8 306.2 178.3 309.2 178.8 312.1 179.3 315.1 179.8 318.1 180.4 321.0 180.9 324.0 181.4 327.0 181.9 329.9 182.4 332.9 183.0 335.8 183.5 338.8 184.0 341.8 184.6 344.7 185.1 347.7 185.6 350.7 186.2 353.6 186.7 356.6 187.3 359.5 187.9 362.5 188.4 365.4 189.0 368.4 189.6 371.3 190.2 374.3 190.7 377.2 191.3 380.2 191.9 383.1 192.6 386.1 193.2 389.0 193.8 391.9 194.4 394.9 195.1 397.8 195.7 400.7 196.4 403.7 197.1 406.6 197.8 409.5 198.5 412.4 199.2 415.4 199.9 418.3 200.6 421.2 201.4 424.1 202.1 427.0 202.9 429.9 203.7 432.8 204.4 435.7 205.2 438.6 206.1 441.4 206.9 444.3 207.7 447.2 208.6 450.1 209.5 452.9 210.4 455.8 211.3 458.6 212.2 461.5 213.1 464.3 214.1 467.2 215.0 470.0 216.0 472.8 217.0 475.7 218.1 478.5 219.1 481.3 220.2 484.1 221.2 486.9 222.3 489.7 223.4 492.5 224.6 495.3 225.7 498.1 226.9 500.8 228.1 503.6 229.3 506.4 230.6 509.1 231.8 511.9 233.1 514.6 234.4 517.3 235.7 520.1 237.1 522.8 238.4 525.5 239.8 528.2 241.3 530.8 242.7 533.5 244.2 536.2 245.7 538.8 247.2 541.4 248.7 544.0 250.3 546.6 251.9 549.2 253.5 551.8 255.1 554.3 256.8 556.8 258.5 559.3 260.2 561.8 262.0 564.2 263.8 566.6 265.6 569.0 267.4 571.4 269.3 573.8 271.2 576.1 273.1 578.4 275.1 580.6 277.1 582.9 279.1 585.1 281.2 587.3 283.2 589.4 285.3 591.5 287.5 593.6 289.7 595.6 291.9 597.6 294.1 599.6 296.4 601.5 298.7 603.4 301.1 605.2 303.4 607.0 305.8 608.8 308.2 610.6 310.7 612.3 313.2 614.0 315.7 615.7 318.2 617.4 320.7 619.0 323.2 620.6 325.7 622.3 328.3 623.9 330.8 625.5 333.4 627.1 336.0 628.7 338.5 630.3 341.1 631.9 343.6 633.5 346.1 635.1 348.7 636.7 351.2 638.3 353.7 640.0 356.2 641.7 358.6 643.4 361.1 645.1 363.5 646.8 365.9 648.6 368.2 650.4 370.6 652.2 372.9 654.1 375.2 656.0 377.4 657.9 379.7 659.8 381.9 661.8 384.1 663.8 386.3 665.8 388.5 667.8 390.7 669.9 392.8 671.9 395.0 673.9 397.2 676.0 399.4 678.0 401.6 680.1 403.8 682.1 406.0 684.2 408.3 686.2 410.6 688.2 412.9 690.2 415.2 692.2 417.5 694.1 419.9 696.0 422.3 697.9 424.8 699.8 427.3 701.6 429.8 703.4 432.3 705.2 434.8 706.9 437.4 708.6 440.0 710.2 442.7 711.8 445.3 713.3 448.0 714.8 450.7 716.2 453.4 717.5 456.1 718.8 458.9 720.0 461.7 721.2 464.4 722.2 467.3 723.2 470.1 724.1 472.9 725.0 475.8 725.7 478.6 726.3 481.5 726.9 484.4 727.4 487.3 727.8 490.2 728.1 493.2 728.3 496.1 728.5 499.1 728.7 502.0 728.8 505.0 728.8 507.9 728.8 510.9 728.8 513.9 728.7 516.8 728.6 519.8 728.5 522.8 728.4 525.8 728.3 528.8 728.2 531.8 728.0 534.8 727.9 537.7 727.8 540.7 727.7 543.7 727.6 546.7 727.5 549.7 727.4 552.7 727.3 555.7 727.2 558.7 727.2 561.7 727.1 564.7 727.1 567.7 727.1 570.7 727.1 573.7 727.2 576.7 727.2 579.7 727.3 582.7 727.5 585.7 727.6 588.7 727.8 591.7 728.0 594.7 728.3 597.7 728.5 600.7 728.9 603.7 729.2 606.7 729.6 609.7 730.0 612.7 730.4 615.7 730.8 618.7 731.3 621.7 731.8 624.7 732.2 627.7 732.7 630.7 733.2 633.7 733.6 636.8 734.1 639.8 734.6 642.8 735.0 645.8 735.5 648.8 735.9 651.8 736.3 654.8 736.6 657.8 737.0 660.8 737.3 663.8 737.6 666.8 737.8 669.8 738.0 672.8 738.2 675.8 738.3 678.8 738.4 681.8 738.5 684.8 738.6 687.9 738.6 690.9 738.7 693.9 738.7 696.9 738.6 699.9 738.6 702.9 738.6 705.9 738.5 708.9 738.4 711.9 738.3 714.9 738.2 717.9 738.1 720.9 738.0 723.9 737.9 726.9 737.8 729.9 737.6 732.9 737.5 735.9 737.4 738.9 737.3 741.9 737.2 744.8 737.1 747.8 737.0 750.8 736.9 753.8 736.8 756.8 736.7 759.8 736.7 762.8 736.6 765.8 736.6 768.8 736.6 771.8 736.6 774.7 736.6 777.7 736.7 780.7 736.8 783.7 736.9 786.7 737.0 789.6 737.2 792.6 737.4 795.6 737.6 798.6 737.9 801.5 738.2 804.5 738.5 807.5 738.8 810.5 739.2 813.4 739.6 816.4 740.0 819.4 740.5 822.3 740.9 825.3 741.4 828.2 741.9 831.2 742.5 834.1 743.1 837.1 743.7 840.0 744.3 842.9 744.9 845.9 745.6 848.8 746.3 851.7 747.0 854.7 747.7 857.6 748.4 860.5 749.2 863.4 750.0 866.3 750.8 869.2 751.6 872.1 752.5 875.0 753.3 877.9 754.2 880.8 755.1 883.7 755.9 886.6 756.8 889.4 757.7 892.3 758.7 895.2 759.6 898.1 760.5 901.0 761.4 903.8 762.3 906.7 763.3 909.6 764.2 912.5 765.1 915.4 766.0 918.2 766.9 921.1 767.8 924.0 768.7 926.9 769.5 929.8 770.4 932.7 771.2 935.5 772.1 938.4 772.9 941.3 773.7 944.2 774.5 947.1 775.2 950.0 775.9 952.9 776.6 955.8 777.3 958.8 778.0 961.7 778.6 964.6 779.2 967.5 779.8 970.5 780.3 973.4 780.9 976.4 781.4 979.3 781.9 982.2 782.3 985.2 782.8 988.2 783.2 991.1 783.6 994.1 783.9 997.0 784.3 1000.0 784.6 1003.0 785.0 1006.0 785.3 1008.9 785.6 1011.9 785.8 1014.9 786.1 1017.9 786.3 1020.9 786.6 1023.9 786.8 1026.9 787.0 1029.9 787.2 1032.9 787.4 1035.9 787.5 1038.9 787.7 1041.9 787.8 1044.9 788.0 1047.9 788.1 1050.9 788.2 1053.9 788.4 1056.9 788.5 1059.9 788.6 1062.9 788.7 1065.9 788.8 1069.0 788.9 1072.0 789.0 1075.0 789.0 1078.0 789.1 1081.0 789.2 1084.1 789.3 1087.1 789.4 1090.1 789.5 1093.1 789.6 1096.1 789.6 1099.2 789.7 1102.2 789.8 1105.2 789.9 1108.2 790.0 1111.2 790.1 1114.3 790.1 1117.3 790.2 1120.3 790.3 1123.3 790.3 1126.3 790.4 1129.4 790.5 1132.4 790.5 1135.4 790.6 1138.4 790.6 1141.4 790.7 1144.4 790.7 1147.4 790.7 1150.5 790.7 1153.5 790.7 1156.5 790.7 1159.5 790.7 1162.5 790.7 1165.5 790.7 1168.5 790.7 1171.5 790.6 1174.5 790.6 1177.5 790.5 1180.4 790.4 1183.4 790.3 1186.4 790.2 1189.4 790.1 1192.4 790.0 1195.4 789.8 1198.3 789.7 1201.3 789.5"/>
<path d="M173.0 306.0L173.6 308.9 174.2 311.8 174.7 314.7 175.2 317.7 175.8 320.6 176.3 323.5 176.9 326.5 177.4 329.4 177.9 332.4 178.5 335.3 179.0 338.2 179.5 341.2 180.1 344.2 180.6 347.1 181.1 350.1 181.7 353.0 182.2 356.0 182.7 359.0 183.3 361.9 183.8 364.9 184.4 367.9 184.9 370.8 185.5 373.8 186.0 376.8 186.6 379.7 187.1 382.7 187.7 385.7 188.3 388.6 188.9 391.6 189.5 394.6 190.0 397.5 190.6 400.5 191.3 403.5 191.9 406.4 192.5 409.4 193.1 412.4 193.8 415.3 194.4 418.3 195.1 421.2 195.8 424.2 196.4 427.1 197.1 430.1 197.8 433.0 198.5 435.9 199.3 438.9 200.0 441.8 200.8 444.7 201.5 447.6 202.3 450.6 203.1 453.5 203.9 456.4 204.7 459.3 205.5 462.2 206.4 465.1 207.2 467.9 208.1 470.8 209.0 473.7 209.9 476.6 210.9 479.4 211.8 482.3 212.8 485.1 213.7 488.0 214.7 490.8 215.8 493.6 216.8 496.4 217.8 499.3 218.9 502.1 220.0 504.8 221.1 507.6 222.3 510.4 223.4 513.2 224.6 515.9 225.8 518.7 227.0 521.4 228.3 524.2 229.5 526.9 230.8 529.6 232.1 532.3 233.5 535.0 234.8 537.6 236.2 540.3 237.6 543.0 239.1 545.6 240.5 548.2 242.0 550.8 243.5 553.4 245.0 556.0 246.6 558.6 248.2 561.1 249.8 563.6 251.4 566.1 253.0 568.6 254.7 571.1 256.4 573.6 258.1 576.0 259.9 578.4 261.7 580.8 263.5 583.2 265.3 585.6 267.2 587.9 269.1 590.2 271.0 592.5 272.9 594.8 274.9 597.0 276.9 599.2 278.9 601.4 280.9 603.6 283.0 605.8 285.1 607.9 287.2 610.0 289.4 612.1 291.6 614.1 293.8 616.1 296.0 618.1 298.3 620.1 300.6 622.0 302.9 623.9 305.3 625.8 307.7 627.6 310.1 629.4 312.5 631.2 315.0 633.0 317.5 634.7 320.1 636.4 322.6 638.0 325.2 639.7 327.9 641.2 330.5 642.8 333.2 644.3 335.9 645.8 338.6 647.3 341.3 648.8 344.1 650.2 346.8 651.7 349.4 653.2 352.1 654.7 354.7 656.2 357.3 657.8 359.8 659.4 362.2 661.1 364.6 662.8 366.9 664.5 369.2 666.3 371.4 668.2 373.6 670.1 375.7 672.0 377.9 674.0 380.0 676.0 382.1 678.0 384.1 680.0 386.2 682.1 388.3 684.2 390.4 686.3 392.6 688.4 394.7 690.5 396.9 692.6 399.2 694.7 401.4 696.8 403.7 698.9 406.0 701.0 408.3 703.0 410.7 705.1 413.1 707.1 415.5 709.1 417.9 711.1 420.4 713.0 422.8 714.9 425.3 716.8 427.9 718.6 430.4 720.4 433.0 722.1 435.6 723.7 438.2 725.3 440.8 726.9 443.5 728.3 446.1 729.7 448.8 731.0 451.5 732.2 454.3 733.3 457.0 734.4 459.8 735.4 462.6 736.3 465.3 737.1 468.2 737.9 471.0 738.6 473.8 739.3 476.7 739.9 479.5 740.4 482.4 740.9 485.3 741.4 488.2 741.7 491.1 742.1 494.0 742.4 496.9 742.6 499.9 742.8 502.8 743.0 505.8 743.2 508.8 743.3 511.7 743.4 514.7 743.4 517.7 743.5 520.7 743.5 523.7 743.5 526.7 743.4 529.7 743.4 532.7 743.4 535.7 743.3 538.8 743.2 541.8 743.2 544.8 743.1 547.8 743.0 550.9 743.0 553.9 742.9 556.9 742.8 559.9 742.8 563.0 742.8 566.0 742.8 569.0 742.7 572.0 742.8 575.1 742.8 578.1 742.8 581.1 742.9 584.1 742.9 587.2 743.0 590.2 743.1 593.2 743.2 596.2 743.4 599.3 743.5 602.3 743.7 605.3 743.9 608.3 744.2 611.4 744.4 614.4 744.7 617.4 745.0 620.4 745.3 623.4 745.7 626.5 746.0 629.5 746.4 632.5 746.8 635.5 747.2 638.5 747.6 641.6 748.0 644.6 748.4 647.6 748.8 650.6 749.2 653.6 749.6 656.6 749.9 659.6 750.2 662.6 750.5 665.7 750.8 668.7 751.0 671.7 751.2 674.7 751.4 677.7 751.5 680.7 751.6 683.7 751.7 686.7 751.7 689.7 751.8 692.7 751.8 695.7 751.8 698.7 751.8 701.7 751.8 704.7 751.7 707.7 751.7 710.7 751.6 713.7 751.5 716.7 751.4 719.7 751.3 722.7 751.2 725.7 751.1 728.7 751.0 731.6 750.9 734.6 750.8 737.6 750.7 740.6 750.6 743.6 750.5 746.6 750.4 749.5 750.4 752.5 750.3 755.5 750.2 758.5 750.2 761.5 750.2 764.4 750.1 767.4 750.1 770.4 750.2 773.3 750.2 776.3 750.3 779.3 750.4 782.2 750.5 785.2 750.6 788.2 750.8 791.1 751.0 794.1 751.2 797.0 751.5 800.0 751.7 803.0 752.0 805.9 752.4 808.9 752.7 811.8 753.1 814.8 753.5 817.7 753.9 820.7 754.4 823.6 754.9 826.6 755.4 829.5 755.9 832.4 756.4 835.4 757.0 838.3 757.5 841.3 758.1 844.2 758.8 847.2 759.4 850.1 760.0 853.0 760.7 856.0 761.4 858.9 762.1 861.8 762.8 864.8 763.6 867.7 764.3 870.7 765.1 873.6 765.8 876.5 766.6 879.5 767.4 882.4 768.2 885.3 769.0 888.3 769.8 891.2 770.6 894.2 771.4 897.1 772.2 900.0 773.1 903.0 773.9 905.9 774.7 908.8 775.5 911.8 776.3 914.7 777.1 917.7 777.9 920.6 778.7 923.5 779.5 926.5 780.3 929.4 781.0 932.4 781.8 935.3 782.5 938.3 783.2 941.2 783.9 944.2 784.6 947.1 785.3 950.1 786.0 953.0 786.6 956.0 787.2 958.9 787.8 961.9 788.4 964.8 788.9 967.8 789.4 970.7 790.0 973.7 790.4 976.6 790.9 979.6 791.4 982.6 791.8 985.5 792.2 988.5 792.6 991.5 793.0 994.4 793.3 997.4 793.7 1000.4 794.0 1003.3 794.3 1006.3 794.6 1009.3 794.9 1012.2 795.2 1015.2 795.4 1018.2 795.7 1021.2 795.9 1024.1 796.1 1027.1 796.4 1030.1 796.6 1033.1 796.7 1036.1 796.9 1039.0 797.1 1042.0 797.3 1045.0 797.4 1048.0 797.6 1051.0 797.7 1054.0 797.8 1057.0 798.0 1059.9 798.1 1062.9 798.2 1065.9 798.3 1068.9 798.4 1071.9 798.5 1074.9 798.6 1077.9 798.7 1080.9 798.8 1083.9 798.9 1086.9 799.0 1089.9 799.1 1092.9 799.2 1095.9 799.3 1098.9 799.4 1101.9 799.5 1104.9 799.6 1107.9 799.7 1110.9 799.7 1113.9 799.8 1116.9 799.9 1119.9 800.0 1122.9 800.0 1125.9 800.1 1128.9 800.2 1131.9 800.2 1134.9 800.3 1137.9 800.3 1141.0 800.4 1144.0 800.4 1147.0 800.4 1150.0 800.4 1153.0 800.4 1156.0 800.4 1159.0 800.4 1162.0 800.4 1165.1 800.4 1168.1 800.4 1171.1 800.3 1174.1 800.3 1177.1 800.2 1180.2 800.2 1183.2 800.1 1186.2 800.0 1189.2 799.9 1192.2 799.8 1195.3 799.7 1198.3 799.5 1201.3 799.4"/>
<path d="M173.0 320.4L173.5 323.3 174.0 326.2 174.5 329.1 175.0 332.0 175.6 334.9 176.1 337.9 176.6 340.8 177.1 343.7 177.6 346.7 178.2 349.6 178.7 352.5 179.3 355.5 179.8 358.4 180.4 361.4 181.0 364.3 181.5 367.3 182.1 370.2 182.7 373.2 183.3 376.1 183.9 379.1 184.5 382.0 185.1 385.0 185.7 387.9 186.4 390.9 187.0 393.8 187.7 396.8 188.3 399.8 189.0 402.7 189.7 405.7 190.3 408.6 191.0 411.6 191.7 414.5 192.5 417.4 193.2 420.4 193.9 423.3 194.7 426.3 195.4 429.2 196.2 432.1 196.9 435.1 197.7 438.0 198.5 440.9 199.3 443.8 200.2 446.7 201.0 449.6 201.8 452.5 202.7 455.4 203.6 458.3 204.4 461.2 205.3 464.1 206.2 467.0 207.2 469.9 208.1 472.7 209.0 475.6 210.0 478.4 211.0 481.3 212.0 484.1 213.0 486.9 214.0 489.8 215.0 492.6 216.0 495.4 217.1 498.2 218.2 501.0 219.3 503.8 220.4 506.5 221.5 509.3 222.6 512.0 223.8 514.8 224.9 517.5 226.1 520.2 227.3 523.0 228.5 525.7 229.8 528.4 231.0 531.0 232.3 533.7 233.6 536.4 234.9 539.0 236.3 541.6 237.6 544.3 239.0 546.9 240.4 549.5 241.9 552.0 243.3 554.6 244.8 557.2 246.4 559.7 247.9 562.2 249.5 564.7 251.1 567.2 252.8 569.7 254.5 572.1 256.2 574.6 257.9 577.0 259.7 579.4 261.5 581.8 263.4 584.2 265.3 586.5 267.2 588.9 269.2 591.2 271.2 593.5 273.3 595.7 275.3 598.0 277.5 600.2 279.6 602.5 281.8 604.6 284.0 606.8 286.2 609.0 288.5 611.1 290.7 613.2 293.0 615.3 295.3 617.4 297.7 619.4 300.0 621.4 302.4 623.4 304.7 625.4 307.1 627.3 309.5 629.2 311.9 631.1 314.3 633.0 316.7 634.8 319.1 636.7 321.5 638.4 323.9 640.2 326.3 641.9 328.6 643.7 331.0 645.3 333.4 647.0 335.8 648.6 338.1 650.2 340.4 651.9 342.8 653.5 345.1 655.1 347.4 656.7 349.7 658.3 352.0 660.0 354.3 661.7 356.6 663.4 358.9 665.2 361.1 667.0 363.4 668.8 365.6 670.7 367.9 672.7 370.1 674.6 372.3 676.7 374.5 678.7 376.7 680.8 378.9 682.9 381.1 685.1 383.3 687.2 385.5 689.4 387.6 691.6 389.8 693.8 391.9 696.0 394.1 698.3 396.2 700.5 398.3 702.8 400.4 705.0 402.6 707.2 404.7 709.5 406.8 711.7 408.9 714.0 411.1 716.2 413.2 718.4 415.4 720.6 417.5 722.8 419.7 724.9 421.9 727.1 424.1 729.2 426.4 731.3 428.6 733.3 430.9 735.3 433.2 737.3 435.6 739.2 437.9 741.1 440.3 742.8 442.8 744.6 445.2 746.2 447.7 747.7 450.3 749.2 452.9 750.6 455.5 751.9 458.1 753.1 460.8 754.2 463.5 755.2 466.3 756.2 469.0 757.1 471.8 757.9 474.6 758.7 477.5 759.4 480.3 760.0 483.2 760.6 486.1 761.1 489.0 761.5 491.9 761.9 494.9 762.3 497.8 762.6 500.8 762.9 503.8 763.1 506.7 763.3 509.7 763.4 512.7 763.5 515.7 763.6 518.7 763.7 521.7 763.7 524.7 763.7 527.7 763.7 530.7 763.6 533.7 763.6 536.7 763.5 539.7 763.4 542.7 763.3 545.7 763.2 548.7 763.1 551.7 763.0 554.7 762.9 557.7 762.8 560.8 762.7 563.8 762.6 566.8 762.5 569.8 762.5 572.8 762.4 575.8 762.4 578.8 762.3 581.9 762.3 584.9 762.3 587.9 762.3 590.9 762.3 593.9 762.3 596.9 762.3 600.0 762.4 603.0 762.5 606.0 762.6 609.0 762.7 612.0 762.8 615.0 763.0 618.0 763.2 621.1 763.4 624.1 763.6 627.1 763.9 630.1 764.1 633.1 764.4 636.1 764.7 639.1 765.0 642.2 765.2 645.2 765.5 648.2 765.8 651.2 766.1 654.2 766.3 657.2 766.6 660.2 766.8 663.2 767.0 666.3 767.2 669.3 767.3 672.3 767.4 675.3 767.5 678.3 767.6 681.3 767.7 684.3 767.7 687.3 767.7 690.3 767.8 693.3 767.7 696.3 767.7 699.3 767.7 702.3 767.7 705.3 767.6 708.3 767.6 711.3 767.5 714.3 767.4 717.3 767.4 720.3 767.3 723.3 767.2 726.3 767.1 729.3 767.0 732.3 767.0 735.2 766.9 738.2 766.8 741.2 766.7 744.2 766.7 747.2 766.6 750.2 766.6 753.1 766.6 756.1 766.5 759.1 766.5 762.1 766.5 765.0 766.5 768.0 766.6 771.0 766.6 774.0 766.7 776.9 766.8 779.9 766.9 782.9 767.0 785.8 767.2 788.8 767.4 791.7 767.6 794.7 767.8 797.7 768.1 800.6 768.3 803.6 768.6 806.5 769.0 809.5 769.3 812.4 769.7 815.4 770.1 818.3 770.5 821.3 770.9 824.2 771.4 827.1 771.8 830.1 772.3 833.0 772.9 836.0 773.4 838.9 773.9 841.8 774.5 844.8 775.1 847.7 775.7 850.6 776.3 853.6 777.0 856.5 777.6 859.4 778.3 862.4 779.0 865.3 779.7 868.2 780.4 871.2 781.2 874.1 781.9 877.0 782.6 880.0 783.4 882.9 784.2 885.8 785.0 888.8 785.7 891.7 786.5 894.6 787.3 897.6 788.1 900.5 788.9 903.4 789.7 906.4 790.5 909.3 791.3 912.2 792.1 915.2 792.8 918.1 793.6 921.0 794.4 924.0 795.2 926.9 795.9 929.9 796.7 932.8 797.4 935.7 798.1 938.7 798.8 941.6 799.5 944.6 800.2 947.5 800.8 950.4 801.5 953.4 802.1 956.3 802.7 959.3 803.2 962.2 803.8 965.2 804.3 968.1 804.8 971.1 805.3 974.0 805.8 977.0 806.3 980.0 806.7 982.9 807.1 985.9 807.5 988.8 807.9 991.8 808.3 994.8 808.6 997.7 808.9 1000.7 809.3 1003.7 809.6 1006.6 809.8 1009.6 810.1 1012.6 810.4 1015.5 810.6 1018.5 810.9 1021.5 811.1 1024.5 811.3 1027.4 811.5 1030.4 811.7 1033.4 811.9 1036.4 812.1 1039.3 812.2 1042.3 812.4 1045.3 812.5 1048.3 812.7 1051.3 812.8 1054.3 812.9 1057.2 813.1 1060.2 813.2 1063.2 813.3 1066.2 813.4 1069.2 813.5 1072.2 813.6 1075.2 813.7 1078.2 813.8 1081.2 813.9 1084.1 814.0 1087.1 814.1 1090.1 814.2 1093.1 814.3 1096.1 814.4 1099.1 814.4 1102.1 814.5 1105.1 814.6 1108.1 814.7 1111.1 814.8 1114.1 814.9 1117.1 814.9 1120.1 815.0 1123.1 815.1 1126.1 815.2 1129.1 815.2 1132.1 815.3 1135.1 815.4 1138.1 815.4 1141.1 815.5 1144.1 815.5 1147.1 815.5 1150.1 815.6 1153.1 815.6 1156.2 815.6 1159.2 815.7 1162.2 815.7 1165.2 815.7 1168.2 815.7 1171.2 815.7 1174.2 815.7 1177.2 815.6 1180.2 815.6 1183.2 815.6 1186.2 815.5 1189.3 815.5 1192.3 815.4 1195.3 815.4 1198.3 815.3 1201.3 815.2"/>
<path d="M173.1 331.0L173.5 334.0 173.9 336.9 174.3 339.9 174.7 342.9 175.1 345.9 175.5 348.8 176.0 351.8 176.4 354.8 176.8 357.7 177.3 360.7 177.7 363.7 178.2 366.7 178.7 369.6 179.1 372.6 179.6 375.6 180.1 378.5 180.6 381.5 181.1 384.5 181.6 387.5 182.1 390.4 182.6 393.4 183.1 396.4 183.7 399.3 184.2 402.3 184.8 405.2 185.3 408.2 185.9 411.2 186.4 414.1 187.0 417.1 187.6 420.0 188.2 423.0 188.8 425.9 189.5 428.9 190.1 431.8 190.7 434.7 191.4 437.7 192.0 440.6 192.7 443.5 193.4 446.5 194.1 449.4 194.8 452.3 195.5 455.2 196.2 458.2 197.0 461.1 197.7 464.0 198.5 466.9 199.3 469.8 200.1 472.7 200.9 475.6 201.7 478.5 202.5 481.4 203.4 484.3 204.2 487.1 205.1 490.0 206.0 492.9 206.8 495.8 207.8 498.6 208.7 501.5 209.6 504.3 210.6 507.2 211.5 510.0 212.5 512.9 213.5 515.7 214.5 518.5 215.6 521.3 216.6 524.2 217.7 527.0 218.7 529.8 219.8 532.6 220.9 535.4 222.1 538.1 223.2 540.9 224.4 543.7 225.5 546.5 226.7 549.2 227.9 552.0 229.2 554.7 230.4 557.5 231.7 560.2 233.0 562.9 234.3 565.7 235.6 568.4 237.0 571.1 238.4 573.7 239.8 576.4 241.2 579.0 242.6 581.7 244.1 584.3 245.7 586.9 247.2 589.4 248.8 592.0 250.4 594.5 252.0 597.0 253.7 599.5 255.4 601.9 257.2 604.4 258.9 606.8 260.8 609.1 262.6 611.5 264.5 613.8 266.5 616.1 268.5 618.3 270.5 620.5 272.5 622.7 274.6 624.8 276.8 627.0 279.0 629.0 281.2 631.1 283.4 633.1 285.7 635.1 288.0 637.1 290.3 639.1 292.6 641.0 295.0 642.9 297.4 644.8 299.8 646.7 302.2 648.5 304.6 650.4 307.0 652.2 309.5 654.0 311.9 655.8 314.4 657.6 316.8 659.3 319.3 661.1 321.8 662.8 324.2 664.6 326.7 666.3 329.1 668.0 331.6 669.8 334.0 671.5 336.4 673.2 338.8 674.9 341.2 676.7 343.6 678.4 345.9 680.2 348.2 682.0 350.6 683.8 352.9 685.6 355.1 687.5 357.4 689.4 359.6 691.3 361.8 693.3 364.0 695.3 366.1 697.4 368.2 699.5 370.3 701.6 372.4 703.8 374.5 706.0 376.6 708.2 378.6 710.4 380.7 712.6 382.7 714.9 384.8 717.1 386.8 719.4 388.9 721.6 390.9 723.9 393.0 726.1 395.1 728.3 397.2 730.5 399.3 732.7 401.4 734.9 403.5 737.0 405.7 739.2 407.9 741.2 410.0 743.3 412.2 745.3 414.5 747.3 416.7 749.3 419.0 751.2 421.2 753.1 423.5 755.1 425.9 757.0 428.2 758.9 430.6 760.9 433.0 762.9 435.4 764.8 437.8 766.8 440.3 768.7 442.8 770.5 445.3 772.3 447.8 774.0 450.4 775.6 453.0 777.0 455.7 778.4 458.3 779.7 461.0 780.9 463.7 782.1 466.4 783.1 469.2 784.1 471.9 785.0 474.7 785.8 477.5 786.5 480.3 787.2 483.2 787.8 486.0 788.4 488.9 788.8 491.8 789.3 494.7 789.7 497.7 790.0 500.6 790.3 503.5 790.5 506.5 790.7 509.5 790.9 512.5 791.0 515.5 791.1 518.5 791.1 521.5 791.1 524.5 791.2 527.5 791.1 530.5 791.1 533.6 791.0 536.6 791.0 539.7 790.9 542.7 790.8 545.8 790.7 548.8 790.6 551.9 790.6 554.9 790.5 558.0 790.4 561.0 790.3 564.0 790.3 567.1 790.2 570.1 790.2 573.2 790.1 576.2 790.1 579.3 790.0 582.3 790.0 585.3 790.0 588.4 790.0 591.4 790.0 594.4 790.0 597.5 790.0 600.5 790.0 603.5 790.0 606.5 790.0 609.6 790.0 612.6 790.0 615.6 790.0 618.6 790.0 621.7 790.0 624.7 790.0 627.7 790.1 630.7 790.1 633.7 790.1 636.7 790.1 639.8 790.1 642.8 790.1 645.8 790.1 648.8 790.1 651.8 790.2 654.8 790.2 657.8 790.2 660.8 790.2 663.8 790.2 666.8 790.2 669.8 790.1 672.8 790.1 675.8 790.1 678.8 790.1 681.8 790.1 684.8 790.1 687.8 790.1 690.8 790.0 693.8 790.0 696.8 790.0 699.8 790.0 702.8 790.0 705.8 790.0 708.8 790.0 711.8 790.0 714.8 790.0 717.8 790.0 720.8 790.0 723.8 790.0 726.8 790.0 729.7 790.0 732.7 790.1 735.7 790.1 738.7 790.2 741.7 790.2 744.7 790.3 747.7 790.3 750.6 790.4 753.6 790.5 756.6 790.6 759.6 790.7 762.6 790.8 765.5 791.0 768.5 791.1 771.5 791.2 774.5 791.4 777.5 791.6 780.4 791.8 783.4 792.0 786.4 792.2 789.4 792.4 792.3 792.7 795.3 792.9 798.3 793.2 801.3 793.5 804.2 793.8 807.2 794.1 810.2 794.5 813.2 794.8 816.1 795.2 819.1 795.5 822.1 795.9 825.0 796.3 828.0 796.7 831.0 797.2 834.0 797.6 836.9 798.1 839.9 798.5 842.9 799.0 845.8 799.5 848.8 800.0 851.8 800.5 854.7 801.1 857.7 801.6 860.7 802.2 863.7 802.7 866.6 803.3 869.6 803.9 872.6 804.5 875.5 805.1 878.5 805.7 881.5 806.4 884.4 807.0 887.4 807.6 890.4 808.3 893.3 808.9 896.3 809.6 899.3 810.2 902.2 810.9 905.2 811.6 908.2 812.2 911.1 812.9 914.1 813.5 917.1 814.1 920.1 814.8 923.0 815.4 926.0 816.1 929.0 816.7 931.9 817.3 934.9 817.9 937.9 818.5 940.8 819.1 943.8 819.6 946.8 820.2 949.7 820.7 952.7 821.3 955.7 821.8 958.7 822.3 961.6 822.8 964.6 823.2 967.6 823.7 970.5 824.1 973.5 824.5 976.5 824.9 979.5 825.3 982.4 825.7 985.4 826.0 988.4 826.4 991.4 826.7 994.3 827.0 997.3 827.3 1000.3 827.6 1003.3 827.9 1006.2 828.2 1009.2 828.4 1012.2 828.7 1015.2 828.9 1018.2 829.1 1021.1 829.3 1024.1 829.5 1027.1 829.7 1030.1 829.9 1033.1 830.1 1036.0 830.2 1039.0 830.4 1042.0 830.5 1045.0 830.7 1048.0 830.8 1051.0 830.9 1053.9 831.0 1056.9 831.1 1059.9 831.2 1062.9 831.3 1065.9 831.4 1068.9 831.5 1071.9 831.5 1074.9 831.6 1077.8 831.6 1080.8 831.7 1083.8 831.7 1086.8 831.8 1089.8 831.8 1092.8 831.8 1095.8 831.9 1098.8 831.9 1101.8 831.9 1104.8 831.9 1107.8 832.0 1110.8 832.0 1113.8 832.0 1116.8 832.0 1119.8 832.0 1122.8 832.0 1125.8 832.0 1128.8 832.0 1131.8 832.0 1134.8 832.0 1137.9 832.0 1140.9 832.1 1143.9 832.1 1146.9 832.1 1149.9 832.1 1152.9 832.1 1155.9 832.1 1158.9 832.1 1162.0 832.1 1165.0 832.2 1168.0 832.2 1171.0 832.2 1174.0 832.2 1177.1 832.3 1180.1 832.3 1183.1 832.3 1186.1 832.4 1189.2 832.4 1192.2 832.5 1195.2 832.6 1198.3 832.6 1201.3 832.7"/>
<path d="M173.1 338.7L173.5 341.7 173.9 344.6 174.3 347.6 174.7 350.6 175.1 353.6 175.6 356.5 176.0 359.5 176.4 362.5 176.9 365.4 177.3 368.4 177.8 371.4 178.2 374.4 178.7 377.3 179.2 380.3 179.6 383.3 180.1 386.2 180.6 389.2 181.1 392.1 181.6 395.1 182.1 398.1 182.6 401.0 183.1 404.0 183.6 406.9 184.2 409.9 184.7 412.8 185.3 415.8 185.8 418.7 186.4 421.7 187.0 424.6 187.6 427.6 188.2 430.5 188.8 433.4 189.4 436.4 190.1 439.3 190.7 442.2 191.4 445.2 192.0 448.1 192.7 451.0 193.4 453.9 194.1 456.8 194.8 459.7 195.5 462.6 196.3 465.5 197.0 468.4 197.8 471.3 198.6 474.2 199.4 477.1 200.2 480.0 201.0 482.8 201.8 485.7 202.7 488.6 203.6 491.5 204.4 494.3 205.3 497.2 206.3 500.0 207.2 502.9 208.1 505.7 209.1 508.5 210.1 511.4 211.1 514.2 212.1 517.0 213.1 519.8 214.2 522.6 215.2 525.4 216.3 528.2 217.4 531.0 218.5 533.8 219.7 536.6 220.8 539.4 222.0 542.1 223.2 544.9 224.4 547.6 225.7 550.4 226.9 553.1 228.2 555.9 229.5 558.6 230.9 561.3 232.2 564.0 233.6 566.7 235.0 569.4 236.4 572.0 237.8 574.7 239.3 577.3 240.8 580.0 242.3 582.6 243.9 585.2 245.5 587.7 247.1 590.3 248.7 592.8 250.4 595.3 252.1 597.8 253.8 600.2 255.6 602.7 257.4 605.1 259.2 607.4 261.0 609.8 262.9 612.1 264.9 614.4 266.8 616.6 268.8 618.8 270.9 621.0 273.0 623.2 275.1 625.3 277.2 627.4 279.4 629.5 281.5 631.5 283.8 633.5 286.0 635.5 288.3 637.5 290.6 639.4 292.9 641.3 295.2 643.2 297.5 645.1 299.9 647.0 302.2 648.9 304.6 650.7 307.0 652.5 309.4 654.4 311.8 656.2 314.2 658.0 316.6 659.8 318.9 661.6 321.3 663.4 323.7 665.2 326.1 666.9 328.5 668.7 330.9 670.5 333.2 672.3 335.6 674.1 337.9 675.9 340.2 677.8 342.5 679.6 344.8 681.4 347.1 683.3 349.4 685.2 351.6 687.1 353.8 689.0 356.0 691.0 358.2 692.9 360.4 694.9 362.5 697.0 364.7 699.0 366.8 701.1 368.8 703.2 370.9 705.4 373.0 707.5 375.0 709.7 377.0 711.9 379.0 714.2 381.0 716.4 383.0 718.7 385.0 720.9 387.0 723.2 389.0 725.5 390.9 727.8 392.9 730.1 394.8 732.4 396.8 734.7 398.8 737.1 400.7 739.4 402.7 741.7 404.7 744.0 406.7 746.4 408.6 748.7 410.6 751.0 412.7 753.3 414.7 755.6 416.7 757.9 418.8 760.2 420.8 762.5 422.9 764.7 425.1 767.0 427.2 769.2 429.3 771.5 431.5 773.7 433.8 775.8 436.0 778.0 438.3 780.1 440.6 782.1 442.9 784.1 445.3 786.0 447.7 787.8 450.1 789.5 452.6 791.1 455.1 792.6 457.7 794.0 460.3 795.4 462.9 796.7 465.5 797.8 468.2 798.9 470.9 799.9 473.6 800.9 476.4 801.8 479.1 802.6 481.9 803.3 484.7 804.0 487.6 804.6 490.4 805.2 493.3 805.7 496.2 806.1 499.1 806.5 502.0 806.9 505.0 807.2 507.9 807.4 510.9 807.6 513.8 807.8 516.8 808.0 519.8 808.1 522.8 808.1 525.8 808.2 528.8 808.2 531.8 808.2 534.8 808.2 537.9 808.1 540.9 808.1 543.9 808.0 546.9 807.9 550.0 807.8 553.0 807.7 556.0 807.6 559.1 807.5 562.1 807.4 565.1 807.2 568.2 807.1 571.2 807.0 574.2 806.9 577.2 806.8 580.3 806.6 583.3 806.5 586.3 806.4 589.3 806.3 592.4 806.2 595.4 806.0 598.4 805.9 601.4 805.8 604.4 805.7 607.4 805.5 610.5 805.4 613.5 805.3 616.5 805.2 619.5 805.1 622.5 805.0 625.5 804.8 628.5 804.7 631.5 804.6 634.5 804.5 637.5 804.4 640.6 804.3 643.6 804.2 646.6 804.1 649.6 804.0 652.6 803.9 655.6 803.8 658.6 803.8 661.6 803.7 664.6 803.6 667.6 803.5 670.6 803.5 673.6 803.4 676.6 803.4 679.6 803.3 682.6 803.3 685.6 803.2 688.6 803.2 691.5 803.1 694.5 803.1 697.5 803.1 700.5 803.1 703.5 803.1 706.5 803.1 709.5 803.1 712.5 803.1 715.5 803.1 718.5 803.1 721.4 803.2 724.4 803.2 727.4 803.3 730.4 803.3 733.4 803.4 736.4 803.5 739.3 803.6 742.3 803.6 745.3 803.7 748.3 803.8 751.3 804.0 754.2 804.1 757.2 804.2 760.2 804.4 763.2 804.5 766.2 804.7 769.1 804.9 772.1 805.1 775.1 805.3 778.1 805.5 781.0 805.7 784.0 805.9 787.0 806.1 790.0 806.4 792.9 806.7 795.9 806.9 798.9 807.2 801.8 807.5 804.8 807.9 807.8 808.2 810.8 808.6 813.7 809.0 816.7 809.4 819.7 809.8 822.6 810.2 825.6 810.7 828.6 811.2 831.5 811.7 834.5 812.3 837.5 812.8 840.4 813.4 843.4 814.0 846.4 814.6 849.3 815.1 852.3 815.8 855.3 816.4 858.2 817.0 861.2 817.6 864.2 818.2 867.1 818.8 870.1 819.4 873.1 820.1 876.0 820.7 879.0 821.3 881.9 821.9 884.9 822.5 887.9 823.1 890.8 823.7 893.8 824.3 896.8 824.9 899.7 825.5 902.7 826.1 905.7 826.7 908.6 827.2 911.6 827.8 914.5 828.4 917.5 828.9 920.5 829.4 923.4 830.0 926.4 830.5 929.4 831.0 932.3 831.5 935.3 832.0 938.3 832.5 941.2 833.0 944.2 833.5 947.1 833.9 950.1 834.4 953.1 834.8 956.0 835.2 959.0 835.6 962.0 836.0 964.9 836.4 967.9 836.7 970.9 837.1 973.8 837.4 976.8 837.8 979.8 838.1 982.7 838.4 985.7 838.7 988.7 839.0 991.7 839.2 994.6 839.5 997.6 839.7 1000.6 840.0 1003.5 840.2 1006.5 840.4 1009.5 840.6 1012.5 840.8 1015.4 841.0 1018.4 841.2 1021.4 841.4 1024.3 841.6 1027.3 841.7 1030.3 841.9 1033.3 842.0 1036.3 842.2 1039.2 842.3 1042.2 842.4 1045.2 842.5 1048.2 842.6 1051.1 842.7 1054.1 842.8 1057.1 842.9 1060.1 843.0 1063.1 843.1 1066.1 843.2 1069.0 843.2 1072.0 843.3 1075.0 843.4 1078.0 843.4 1081.0 843.5 1084.0 843.5 1087.0 843.6 1090.0 843.6 1093.0 843.7 1095.9 843.7 1098.9 843.7 1101.9 843.8 1104.9 843.8 1107.9 843.9 1110.9 843.9 1113.9 843.9 1116.9 843.9 1119.9 844.0 1122.9 844.0 1125.9 844.0 1128.9 844.1 1131.9 844.1 1134.9 844.1 1137.9 844.1 1140.9 844.2 1143.9 844.2 1146.9 844.2 1150.0 844.3 1153.0 844.3 1156.0 844.4 1159.0 844.4 1162.0 844.4 1165.0 844.5 1168.0 844.5 1171.1 844.6 1174.1 844.7 1177.1 844.7 1180.1 844.8 1183.1 844.9 1186.2 844.9 1189.2 845.0 1192.2 845.1 1195.2 845.2 1198.3 845.3 1201.3 845.4"/>
</g>
<g stroke="#000" stroke-width="3.3" fill="none" stroke-linecap="butt">
<path d="M173.05 45.2V859.2H1202.8"/>
<line x1="173.05" y1="859.20" x2="173.05" y2="874"/>
<line x1="275.86" y1="859.20" x2="275.86" y2="866.6"/>
<line x1="378.66" y1="859.20" x2="378.66" y2="874"/>
<line x1="481.46" y1="859.20" x2="481.46" y2="866.6"/>
<line x1="584.27" y1="859.20" x2="584.27" y2="874"/>
<line x1="687.07" y1="859.20" x2="687.07" y2="866.6"/>
<line x1="789.88" y1="859.20" x2="789.88" y2="874"/>
<line x1="892.68" y1="859.20" x2="892.68" y2="866.6"/>
<line x1="995.49" y1="859.20" x2="995.49" y2="874"/>
<line x1="1098.30" y1="859.20" x2="1098.30" y2="866.6"/>
<line x1="1201.10" y1="859.20" x2="1201.10" y2="874"/>
<line x1="173.05" y1="859.20" x2="159.1" y2="859.20"/>
<line x1="173.05" y1="723.82" x2="166" y2="723.82"/>
<line x1="173.05" y1="588.43" x2="159.1" y2="588.43"/>
<line x1="173.05" y1="453.05" x2="166" y2="453.05"/>
<line x1="173.05" y1="317.67" x2="159.1" y2="317.67"/>
<line x1="173.05" y1="182.28" x2="166" y2="182.28"/>
<line x1="173.05" y1="46.90" x2="159.1" y2="46.90"/>
</g>
<g stroke="#000" stroke-width="1.1">
<line x1="790.3" y1="828.3" x2="861.2" y2="589.2"/>
</g>
<polygon points="866.6,571.7 856.5,588.4 865.4,591.9" fill="#000"/>
<line x1="1002.8" y1="248.5" x2="1002.8" y2="164" stroke="#444" stroke-width="1.15"/>
<polygon points="1002.8,144.8 997.8,164.2 1007.9,164.2" fill="#000"/>
<g class="num">
<text transform="translate(0 940.0) scale(0.920 1)" x="154.79 188.64 222.49" text-anchor="middle" font-size="67.6">200</text>
<text transform="translate(0 940.0) scale(0.920 1)" x="378.28 412.13 445.98" text-anchor="middle" font-size="67.6">225</text>
<text transform="translate(0 940.0) scale(0.920 1)" x="601.77 635.62 669.47" text-anchor="middle" font-size="67.6">250</text>
<text transform="translate(0 940.0) scale(0.920 1)" x="825.26 859.11 892.96" text-anchor="middle" font-size="67.6">275</text>
<text transform="translate(0 940.0) scale(0.920 1)" x="1048.75 1082.60 1116.45" text-anchor="middle" font-size="67.6">300</text>
<text transform="translate(0 940.0) scale(0.920 1)" x="1272.24 1306.09 1339.93" text-anchor="middle" font-size="67.6">325</text>
<text transform="translate(0 874.4) scale(0.920 1)" x="142.39" text-anchor="middle" font-size="67.6">0</text>
<text transform="translate(0 603.6) scale(0.920 1)" x="142.39" text-anchor="middle" font-size="67.6">1</text>
<text transform="translate(0 332.9) scale(0.920 1)" x="142.39" text-anchor="middle" font-size="67.6">2</text>
<text transform="translate(0 62.1) scale(0.920 1)" x="142.39" text-anchor="middle" font-size="67.6">3</text>
<text transform="translate(0 137.3) scale(0.920 1)" x="1076.88 1110.73" text-anchor="middle" font-size="67.6">10</text>
<text transform="translate(0 312.3) scale(0.920 1)" x="1090.00" text-anchor="middle" font-size="67.6">1</text>
</g>
<g class="lab">
<text transform="translate(0 1019.3) scale(0.870 1)" x="518.39 557.06 592.85 628.64 664.44 700.23 736.02 771.82 807.61 843.40" text-anchor="middle" font-size="66">wavelength</text>
<text transform="translate(0 1019.3) scale(0.870 1)" x="984.85 1026.97" text-anchor="middle" font-size="66">nm</text>
<text transform="translate(827.5 1023.4) scale(1.2 1)" text-anchor="middle" font-size="80" style="stroke:#fff;stroke-width:1.6px">/</text>
<text transform="translate(796.3 1019.3) scale(1.0 1)" text-anchor="middle" font-size="66" style="stroke:#000;stroke-width:1.2px">λ</text>
<text transform="translate(84.4 0) rotate(-90) scale(0.920 1)" x="-657.93 -619.02 -583.37 -547.72 -512.07 -476.41 -440.76 -405.11 -369.46 -333.80" text-anchor="middle" font-size="65">Absorbance</text>
</g>
</svg>
</body>
</html>
